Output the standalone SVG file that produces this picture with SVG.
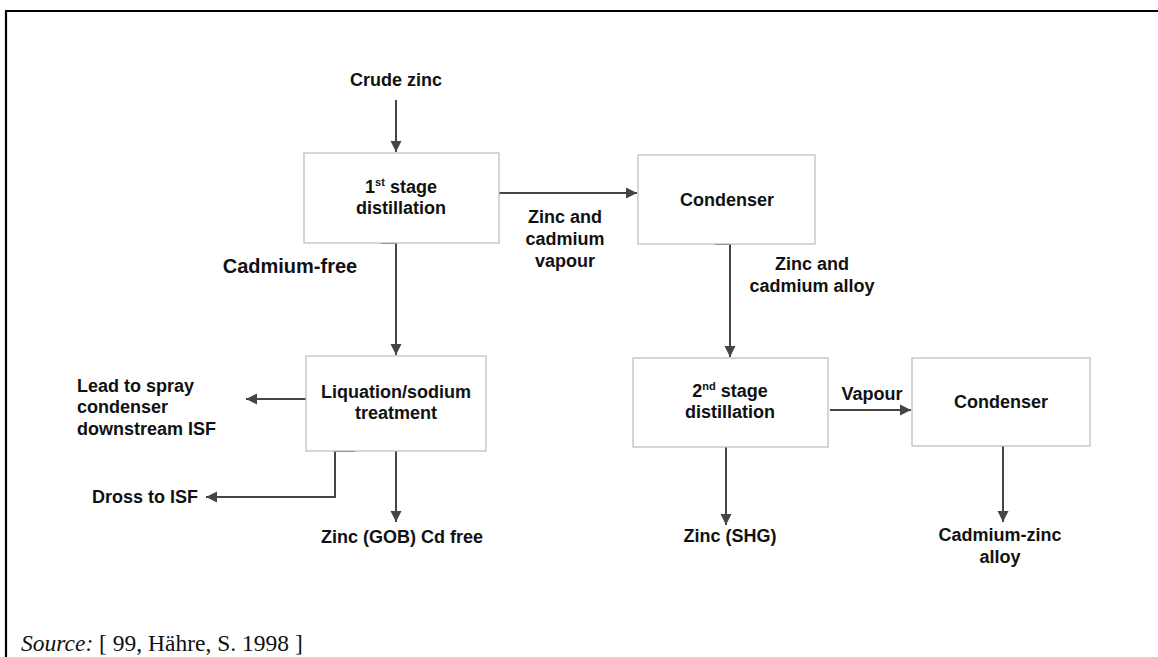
<svg xmlns="http://www.w3.org/2000/svg" width="1158" height="657" viewBox="0 0 1158 657">
<style>
.box{fill:#fff;stroke:#c0c0c0;stroke-width:1.3}
.lbl{font-family:"Liberation Sans",Arial,sans-serif;font-weight:bold;font-size:18px;fill:#111;text-anchor:middle}
.lft{text-anchor:start}
.sup{font-size:11px}
.con{fill:none;stroke:#454545;stroke-width:2}
.src{font-family:"Liberation Serif","Times New Roman",serif;font-size:23.5px;fill:#111}
</style>
<defs>
<marker id="ah" markerUnits="userSpaceOnUse" markerWidth="12" markerHeight="12" viewBox="0 0 12 12" refX="11" refY="6" orient="auto">
<path d="M0,0.5 L11,6 L0,11.5 Z" fill="#454545"/>
</marker>
</defs>
<rect width="1158" height="657" fill="#fff"/>
<path d="M6,657 V11 H1158" fill="none" stroke="#000" stroke-width="2.2"/>

<g id="connectors">
<path class="con" d="M396,100 V152" marker-end="url(#ah)"/>
<path class="con" d="M499,193 H637" marker-end="url(#ah)"/>
<path class="con" d="M381,243 H396 V355" marker-end="url(#ah)"/>
<path class="con" d="M715,244 H730 V357" marker-end="url(#ah)"/>
<path class="con" d="M306,399 H246" marker-end="url(#ah)"/>
<path class="con" d="M355,451 H335 V497 H206" marker-end="url(#ah)"/>
<path class="con" d="M396,451 V522" marker-end="url(#ah)"/>
<path class="con" d="M830,410 H911" marker-end="url(#ah)"/>
<path class="con" d="M726,447 V525" marker-end="url(#ah)"/>
<path class="con" d="M1003,446 V522" marker-end="url(#ah)"/>
</g>

<g id="crude-zinc"><text class="lbl" x="396" y="86">Crude zinc</text></g>

<g id="stage1">
<rect class="box" x="304" y="153" width="195" height="90"/>
<text class="lbl" x="401" y="193">1<tspan class="sup" dy="-7">st</tspan><tspan dy="7"> stage</tspan></text>
<text class="lbl" x="401" y="214">distillation</text>
</g>

<g id="condenser1">
<rect class="box" x="638" y="155" width="177" height="89"/>
<text class="lbl" x="727" y="206">Condenser</text>
</g>

<g id="lbl-vapour1">
<text class="lbl" x="565" y="223">Zinc and</text>
<text class="lbl" x="565" y="245">cadmium</text>
<text class="lbl" x="565" y="267">vapour</text>
</g>

<g id="lbl-cdfree"><text class="lbl" x="290" y="273" style="font-size:20px">Cadmium-free</text></g>

<g id="lbl-alloy">
<text class="lbl" x="812" y="270">Zinc and</text>
<text class="lbl" x="812" y="292">cadmium alloy</text>
</g>

<g id="liquation">
<rect class="box" x="306" y="356" width="180" height="95"/>
<text class="lbl" x="396" y="398">Liquation/sodium</text>
<text class="lbl" x="396" y="419">treatment</text>
</g>

<g id="lead">
<text class="lbl lft" x="77" y="392">Lead to spray</text>
<text class="lbl lft" x="77" y="413">condenser</text>
<text class="lbl lft" x="77" y="435">downstream ISF</text>
</g>

<g id="dross"><text class="lbl lft" x="92" y="503">Dross to ISF</text></g>

<g id="zinc-gob"><text class="lbl" x="402" y="543">Zinc (GOB) Cd free</text></g>

<g id="stage2">
<rect class="box" x="633" y="358" width="195" height="89"/>
<text class="lbl" x="730" y="397">2<tspan class="sup" dy="-7">nd</tspan><tspan dy="7"> stage</tspan></text>
<text class="lbl" x="730" y="418">distillation</text>
</g>

<g id="lbl-vapour2"><text class="lbl" x="872" y="400">Vapour</text></g>

<g id="condenser2">
<rect class="box" x="912" y="358" width="178" height="88"/>
<text class="lbl" x="1001" y="408">Condenser</text>
</g>

<g id="zinc-shg"><text class="lbl" x="730" y="542">Zinc (SHG)</text></g>

<g id="cdzn">
<text class="lbl" x="1000" y="541">Cadmium-zinc</text>
<text class="lbl" x="1000" y="563">alloy</text>
</g>

<text class="src" x="21" y="651"><tspan font-style="italic">Source:</tspan> [ 99, Hähre, S. 1998 ]</text>
</svg>
